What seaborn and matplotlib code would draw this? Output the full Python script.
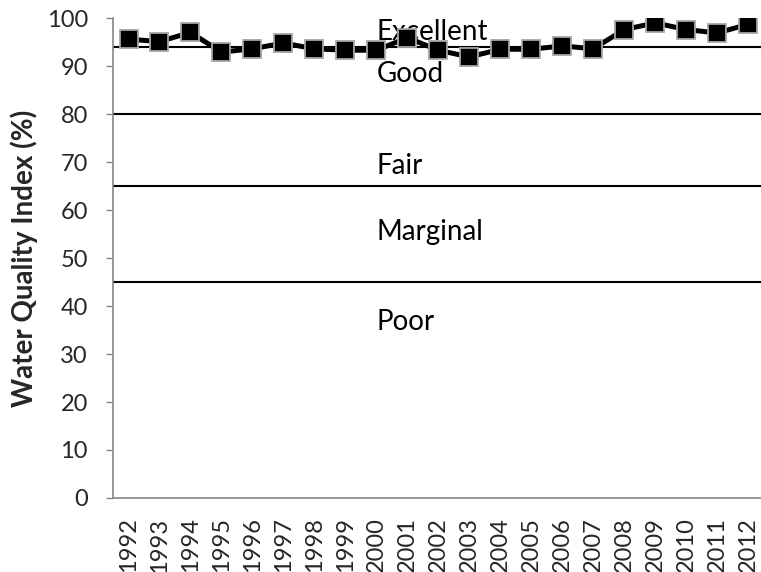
import numpy as np
import pandas as pd
import matplotlib
matplotlib.use("Agg")
import matplotlib.pyplot as plt
import seaborn as sns

# datos
anios = [str(a) for a in range(1992, 2013)]
indice = [95.6, 95.1, 97.0, 92.9, 93.6, 94.8, 93.6, 93.3, 93.3, 95.9, 93.3,
          91.9, 93.5, 93.5, 94.2, 93.6, 97.6, 99.0, 97.6, 96.9, 98.7]
limites = [94, 80, 65, 45]
categorias = ["Excellent", "Good", "Fair", "Marginal", "Poor"]
pos_etiquetas = [95.4, 86.7, 67.5, 53.8, 35.0]   # linea base del texto

df = pd.DataFrame({"Anio": anios, "WQI": indice})

sns.set_style("white")
plt.rcParams['font.family'] = ['Lato', 'DejaVu Sans']

fig = plt.figure(figsize=(7.61, 5.72), dpi=100)
ax = fig.add_axes([0.1485, 0.1294, 0.855, 0.839])

# lineas de categorias
for lim in limites:
    ax.axhline(lim, color="black", lw=1.5, zorder=1)

sns.lineplot(data=df, x="Anio", y="WQI", sort=False, ax=ax, color="black",
             lw=3.6, marker="s", markersize=12.5, markerfacecolor="black",
             markeredgecolor="#a6a6a6", markeredgewidth=1.3, zorder=3)

for cat, y in zip(categorias, pos_etiquetas):
    ax.text(8.0, y, cat, fontsize=20, va="baseline", ha="left", color="black", zorder=2)

ax.set_ylim(0, 100)
ax.set_xlim(-0.5, len(anios) - 0.5)
ax.set_yticks(range(0, 101, 10))
ax.set_xticks(range(len(anios)))
ax.set_xticklabels(anios, rotation=90, fontsize=17)
ax.set_xticks(np.arange(-0.5, len(anios), 1), minor=True)
ax.tick_params(axis="x", which="major", length=0, pad=14)
ax.tick_params(axis="x", which="minor", length=5, width=1, color="#868686", direction="out")
ax.tick_params(axis="y", length=5, width=1, color="#868686", direction="out", labelsize=17, pad=13)
ax.tick_params(axis="both", bottom=True, left=True)

for s in ["top", "right"]:
    ax.spines[s].set_visible(False)
for s in ["left", "bottom"]:
    ax.spines[s].set_color("#868686")
    ax.spines[s].set_linewidth(1.2)

ax.set_xlabel("")
ax.set_ylabel("Water Quality Index (%)", fontsize=20, fontweight="bold")
ax.yaxis.set_label_coords(-0.115, 0.5)

fig.savefig("out.png", dpi=100)
